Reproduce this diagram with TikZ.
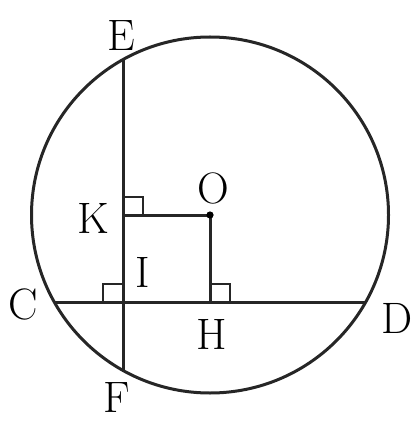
\documentclass[tikz,border=0pt]{standalone}
\usetikzlibrary{calc}
\begin{document}
\begin{tikzpicture}[x=0.5pt,y=-0.5pt,
  geo/.style={line width=1.5pt,draw=black!85},
  lbl/.style={font=\fontsize{22}{24}\selectfont,inner sep=0pt}]
\useasboundingbox (0,0) rectangle (416,422);
\coordinate (O) at (210,215);
\coordinate (E) at (123,60);
\coordinate (F) at (123,370);
\coordinate (C) at (55,302);
\coordinate (D) at (365,302);
\coordinate (K) at (123,215);
\coordinate (I) at (123,302);
\coordinate (H) at (210,302);
\draw[geo] (O) circle[x radius=178.5,y radius=178];
\draw[geo] (E) -- (F);
\draw[geo] (C) -- (D);
\draw[geo] (K) -- (O) -- (H);
\fill (O) circle[radius=3.6];
% right-angle marks
\draw[geo,line width=1.2pt] ($(K)+(0,-18)$) -- ++(20,0) -- ++(0,18);
\draw[geo,line width=1.2pt] ($(I)+(0,-18)$) -- ++(-20,0) -- ++(0,18);
\draw[geo,line width=1.2pt] ($(H)+(0,-18)$) -- ++(20,0) -- ++(0,18);
\node[lbl] (lE) at (121,36) {E};
\node[lbl] (lK) at (93,218) {K};
\node[lbl] (lO) at (213,188) {O};
\node[lbl] (lI) at (143,272) {I};
\node[lbl] (lC) at (23,304) {C};
\node[lbl] (lD) at (397,318) {D};
\node[lbl] (lH) at (212,334) {H};
\node[lbl] (lF) at (117,398) {F};
\end{tikzpicture}
\end{document}
